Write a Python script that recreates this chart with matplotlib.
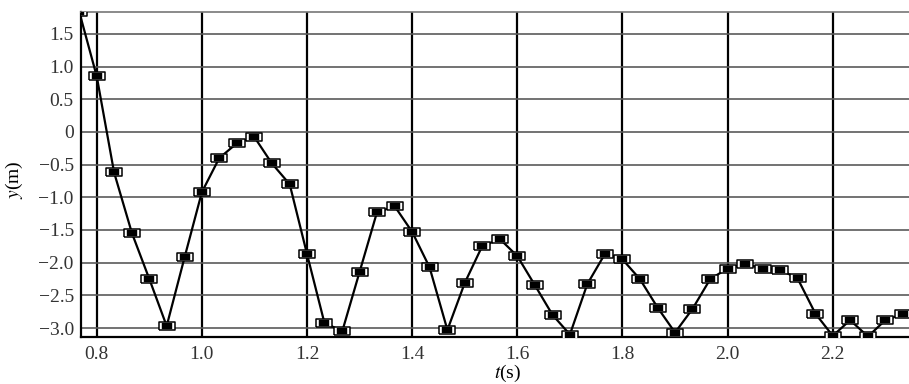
import matplotlib
matplotlib.use('Agg')
import matplotlib.pyplot as plt

# frame times (s) and measured positions (m)
t = [0.767, 0.800, 0.833, 0.867, 0.900, 0.933, 0.967, 1.000, 1.033, 1.067,
     1.100, 1.133, 1.167, 1.200, 1.233, 1.267, 1.300, 1.333, 1.367, 1.400,
     1.433, 1.467, 1.500, 1.533, 1.567, 1.600, 1.633, 1.667, 1.700, 1.733,
     1.767, 1.800, 1.833, 1.867, 1.900, 1.933, 1.967, 2.000, 2.033, 2.067,
     2.100, 2.133, 2.167, 2.200, 2.233, 2.267, 2.300, 2.333]
y = [1.83, 0.85, -0.62, -1.55, -2.25, -2.97, -1.92, -0.92, -0.40, -0.17,
     -0.08, -0.48, -0.80, -1.87, -2.92, -3.05, -2.14, -1.23, -1.14, -1.53,
     -2.07, -3.03, -2.31, -1.75, -1.64, -1.90, -2.34, -2.80, -3.10, -2.33,
     -1.86, -1.95, -2.25, -2.69, -3.07, -2.71, -2.25, -2.09, -2.02, -2.09,
     -2.11, -2.24, -2.78, -3.12, -2.88, -3.13, -2.88, -2.79]

xticks = [0.8, 1.0, 1.2, 1.4, 1.6, 1.8, 2.0, 2.2]
yticks = [1.5, 1.0, 0.5, 0, -0.5, -1.0, -1.5, -2.0, -2.5, -3.0]
ylabels = ['1.5', '1.0', '0.5', '0', '\u22120.5', '\u22121.0', '\u22121.5',
           '\u22122.0', '\u22122.5', '\u22123.0']

plt.rcParams['font.family'] = ['Liberation Serif', 'DejaVu Serif']
plt.rcParams['mathtext.fontset'] = 'stix'

rect = [(-2, -1), (2, -1), (2, 1), (-2, 1), (-2, -1)]

fig = plt.figure(figsize=(9.09, 3.84), dpi=100)
ax = fig.add_axes([0.0888, 0.1232, 0.9112, 0.8456])

ax.plot(t, y, color='black', lw=1.6, zorder=3)
ax.plot(t, y, ls='none', marker=rect, ms=12, mfc='white', mec='black',
        mew=1.1, zorder=4)
ax.plot(t, y, ls='none', marker=rect, ms=7.5, mfc='black', mec='black',
        mew=0.3, zorder=5)

ax.set_xlim(0.7695, 2.345)
ax.set_ylim(-3.133, 1.836)
ax.set_xticks(xticks)
ax.set_xticklabels([f'{v:.1f}' for v in xticks])
ax.set_yticks(yticks)
ax.set_yticklabels(ylabels)
ax.tick_params(length=0, labelsize=14, colors='#333333')
ax.tick_params(axis='x', pad=7)
ax.tick_params(axis='y', pad=5)

for v in xticks:
    ax.axvline(v, color='black', lw=1.6, zorder=1)
for v in yticks:
    ax.axhline(v, color='#5a5a5a', lw=1.2, zorder=1)

ax.spines['right'].set_visible(False)
ax.spines['top'].set_color('#777777')
ax.spines['top'].set_linewidth(1.2)
ax.spines['left'].set_linewidth(1.6)
ax.spines['bottom'].set_linewidth(1.6)

ax.set_xlabel(r'$t$(s)', fontsize=14)
ax.set_ylabel(r'$y$(m)', fontsize=14)
ax.xaxis.set_label_coords(0.516, -0.082)
ax.yaxis.set_label_coords(-0.067, 0.483)

fig.savefig('out.png', dpi=100)
